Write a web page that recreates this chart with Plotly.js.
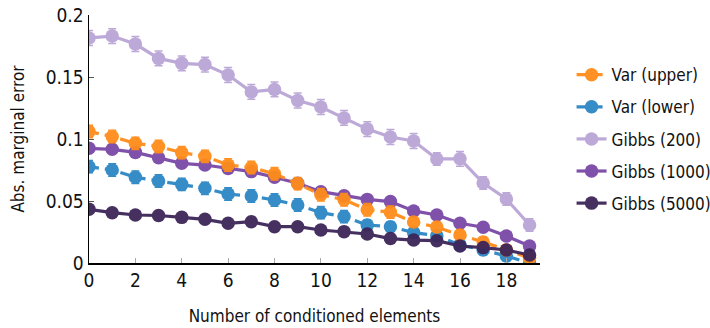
<!DOCTYPE html>
<html>
<head>
<meta charset="utf-8">
<script src="https://cdn.plot.ly/plotly-3.0.1.min.js"></script>
<style>html,body{margin:0;padding:0;background:#fff;}#chart{width:710px;height:328px;}
#chart text{font-stretch:condensed;}</style>
</head>
<body>
<div id="chart"></div>
<script>
var xs = [0,1,2,3,4,5,6,7,8,9,10,11,12,13,14,15,16,17,18,19];
var seriesNames = ["Var (upper)", "Var (lower)", "Gibbs (200)", "Gibbs (1000)", "Gibbs (5000)"];
var varUpper = [0.106,0.102,0.0965,0.094,0.089,0.086,0.079,0.077,0.072,0.064,0.055,0.051,0.043,0.041,0.033,0.029,0.0226,0.017,0.0105,0.004];
var varUpperErr = [0.005,0.005,0.005,0.005,0.005,0.005,0.005,0.005,0.005,0.005,0.005,0.005,0.005,0.005,0.004,0.004,0.004,0.004,0.004,0.003];
var varLower = [0.0777,0.075,0.0691,0.0661,0.0634,0.0602,0.0556,0.054,0.0508,0.0468,0.0406,0.0374,0.0306,0.0293,0.0245,0.022,0.0145,0.0105,0.0056,0.0];
var varLowerErr = [0.005,0.005,0.005,0.005,0.005,0.005,0.005,0.005,0.005,0.005,0.005,0.005,0.004,0.004,0.004,0.004,0.004,0.004,0.004,0.003];
var gibbs200 = [0.1815,0.183,0.1766,0.165,0.161,0.160,0.1516,0.138,0.140,0.131,0.1258,0.117,0.108,0.1016,0.0984,0.0839,0.084,0.0645,0.0516,0.0306];
var gibbs200Err = [0.006,0.006,0.006,0.006,0.006,0.006,0.006,0.006,0.006,0.006,0.006,0.006,0.006,0.006,0.006,0.005,0.006,0.005,0.005,0.005];
var gibbs1000 = [0.0925,0.0917,0.0892,0.0849,0.0804,0.079,0.0763,0.0737,0.0691,0.0643,0.0575,0.0543,0.0513,0.0495,0.042,0.0387,0.032,0.0288,0.0218,0.0137];
var gibbs5000 = [0.0433,0.0406,0.0387,0.0383,0.0368,0.0352,0.032,0.0333,0.0293,0.0293,0.0266,0.0253,0.0234,0.0197,0.0185,0.018,0.0137,0.0124,0.0105,0.0065];
var xTicks = [0,2,4,6,8,10,12,14,16,18];
var yTicks = [0,0.05,0.1,0.15,0.2];
var yTickText = ["0","0.05","0.1","0.15","0.2"];

var FONT = "'Liberation Sans Narrow', 'DejaVu Sans', sans-serif";
var colors = ["#ff8c1a", "#2b86c3", "#baa5d6", "#7a48a6", "#3c2558"];

function tr(y, err, name, color, dash, rank) {
  var t = {
    x: xs, y: y, name: name, type: 'scatter', mode: 'lines+markers',
    line: {color: color, width: 3.2, dash: dash},
    marker: {color: color, size: 13.5},
    opacity: 0.95,
    legendrank: rank,
    legendgroup: 'g' + rank
  };
  if (err) t.error_y = {type: 'data', array: err, visible: true, color: color, thickness: 1.5, width: 4};
  return t;
}

var data = [
  tr(gibbs200, gibbs200Err, seriesNames[2], colors[2], 'solid', 3),
  tr(gibbs1000, null, seriesNames[3], colors[3], 'solid', 4),
  tr(varLower, varLowerErr, seriesNames[1], colors[1], '10px,6px', 2),
  tr(varUpper, varUpperErr, seriesNames[0], colors[0], '10px,6px', 1),
  tr(gibbs5000, null, seriesNames[4], colors[4], 'solid', 5)
];

var layout = {
  width: 710, height: 328,
  margin: {l: 89, r: 170, t: 15, b: 65, autoexpand: false},
  paper_bgcolor: '#fff', plot_bgcolor: '#fff',
  font: {family: FONT, size: 17, color: '#111'},
  showlegend: true,
  legend: {x: 1.07, y: 0.83, xanchor: 'left', yanchor: 'top', traceorder: 'grouped', tracegroupgap: 7,
           font: {family: FONT, size: 17, color: '#111'}, bgcolor: 'rgba(0,0,0,0)'},
  xaxis: {
    range: [0, 19.45], tickvals: xTicks, ticks: 'inside', ticklen: 5, tickcolor: '#aaa',
    showline: true, linecolor: '#000', linewidth: 1.5, showgrid: false, zeroline: false,
    tickfont: {family: FONT, size: 19, color: '#111'},
    title: {text: 'Number of conditioned elements', font: {family: FONT, size: 17, color: '#111'}, standoff: 20}
  },
  yaxis: {
    range: [0, 0.2], tickvals: yTicks, ticktext: yTickText, ticks: 'inside', ticklen: 5, tickcolor: '#555',
    showline: true, linecolor: '#000', linewidth: 1.5, showgrid: false, zeroline: false,
    tickfont: {family: FONT, size: 19, color: '#111'},
    title: {text: 'Abs. marginal error', font: {family: FONT, size: 17, color: '#111'}, standoff: 12}
  }
};

Plotly.newPlot('chart', data, layout, {displayModeBar: false, staticPlot: true});
</script>
</body>
</html>
